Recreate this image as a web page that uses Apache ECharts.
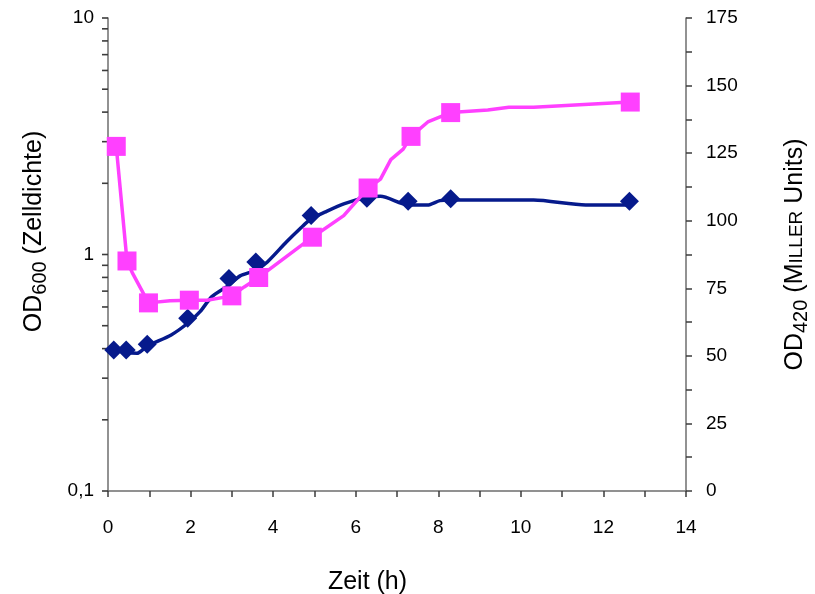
<!DOCTYPE html>
<html>
<head>
<meta charset="utf-8">
<script src="https://cdn.jsdelivr.net/npm/echarts@6/dist/echarts.min.js"></script>
<style>html,body{margin:0;padding:0;background:#fff}#c{width:815px;height:594px}</style>
</head>
<body>
<div id="c"></div>
<script>
// Marker data (measured points)
const odX   = [0.14, 0.44, 0.95, 1.93, 2.93, 3.58, 4.92, 6.27, 7.27, 8.30, 12.63];
const odY   = [0.395, 0.395, 0.417, 0.537, 0.791, 0.930, 1.462, 1.729, 1.680, 1.720, 1.680];
const muX   = [0.20, 0.46, 0.98, 1.97, 3.00, 3.65, 4.95, 6.30, 7.34, 8.30, 12.65];
const muY   = [127.5, 85.1, 69.6, 70.6, 72.2, 79.0, 93.9, 112.1, 131.2, 140.0, 143.9];

// Connecting (smoothed) curve vertices
const odLineX = [0.14, 0.44, 0.70, 0.95, 1.53, 1.93, 2.23, 2.51, 2.93, 3.20, 3.58, 3.86, 4.32, 4.65, 4.92, 5.25, 5.71, 6.27, 6.60, 7.27, 7.74, 8.04, 8.30, 9.24, 10.31, 11.57, 12.63];
const odLineY = [0.395, 0.385, 0.382, 0.41, 0.457, 0.512, 0.573, 0.662, 0.742, 0.812, 0.858, 0.93, 1.129, 1.285, 1.416, 1.51, 1.637, 1.746, 1.763, 1.62, 1.62, 1.69, 1.70, 1.70, 1.70, 1.62, 1.62];
const muLineX = [0.20, 0.46, 0.60, 0.98, 1.50, 1.97, 2.40, 3.00, 3.30, 3.65, 4.95, 5.71, 6.30, 6.60, 6.85, 7.15, 7.34, 7.76, 8.30, 9.20, 9.71, 10.31, 12.65];
const muLineY = [127.5, 85.1, 80.4, 69.6, 70.4, 70.6, 70.6, 72.2, 75.5, 79.0, 93.9, 101.9, 112.1, 115.4, 122.6, 126.5, 131.2, 136.7, 140.0, 141.0, 142.0, 142.0, 143.9];

// Axis settings / labels
const xMin = 0, xMax = 14, xStep = 2;
const leftMin = 0.1, leftMax = 10;
const leftTickValues = [0.1, 0.2, 0.3, 0.4, 0.5, 0.6, 0.7, 0.8, 0.9, 1, 2, 3, 4, 5, 6, 7, 8, 9, 10];
const rightMin = 0, rightMax = 175, rightStep = 25;
const xTitle = 'Zeit (h)';
const leftTitle = '{b|OD}{s|600}{b| (Zelldichte)}';
const rightTitle = '{b|OD}{s|420}{b| (M}{sc|ILLER}{b| Units)}';

const NAVY = '#061a8c';
const PINK = '#ff40ff';
const AXIS = '#6e6e6e';
const TICK = '#3c3c3c';
const FONT = '"Liberation Sans", Arial, sans-serif';
const TICK_LEN = 6;

const pairs = (xs, ys) => xs.map((x, i) => [x, ys[i]]);

const titleRich = {
  b: {fontSize: 25, fontFamily: FONT, color: '#000', lineHeight: 28},
  s: {fontSize: 20, fontFamily: FONT, color: '#000', lineHeight: 28, padding: [13, 0, 0, 0]},
  sc: {fontSize: 19, fontFamily: FONT, color: '#000', lineHeight: 28, padding: [4, 0, 0, 0]}
};

const chart = echarts.init(document.getElementById('c'), null, {renderer: 'canvas'});
chart.setOption({
  animation: false,
  backgroundColor: '#fff',
  grid: [
    {left: 108, right: 129, top: 18, bottom: 103, containLabel: false, outerBoundsMode: 'none'},
    // narrow strip left of the main plot that carries the log-axis tick marks
    {left: 108 - TICK_LEN, width: TICK_LEN, top: 18, bottom: 103, containLabel: false, outerBoundsMode: 'none'}
  ],
  xAxis: [
    {
      type: 'value', gridIndex: 0, min: xMin, max: xMax, interval: xStep,
      name: xTitle, nameLocation: 'middle', nameGap: 79,
      nameTextStyle: {fontSize: 25, fontFamily: FONT, color: '#000', padding: [0, 59, 0, 0]},
      axisLine: {show: true, lineStyle: {color: AXIS, width: 1.5}},
      axisTick: {show: true, inside: false, length: TICK_LEN, lineStyle: {color: TICK, width: 1.5}},
      minorTick: {show: true, splitNumber: 2, length: TICK_LEN, lineStyle: {color: TICK, width: 1.5}},
      axisLabel: {fontSize: 19, fontFamily: FONT, color: '#000', margin: 27},
      splitLine: {show: false}
    },
    {type: 'value', gridIndex: 1, min: 0, max: 1, show: false}
  ],
  yAxis: [
    {
      type: 'log', gridIndex: 0, logBase: 10, min: leftMin, max: leftMax, position: 'left',
      name: leftTitle, nameLocation: 'middle', nameRotate: 90, nameGap: 60,
      nameTextStyle: {rich: titleRich, padding: [0, 0, 0, 46]},
      axisLine: {show: true, lineStyle: {color: AXIS, width: 1.5}},
      axisTick: {show: false},
      minorTick: {show: false},
      axisLabel: {fontSize: 19, fontFamily: FONT, color: '#000', margin: 14,
        formatter: v => String(v).replace('.', ',')},
      splitLine: {show: false}
    },
    {
      type: 'value', gridIndex: 0, min: rightMin, max: rightMax, interval: rightStep, position: 'right',
      name: rightTitle, nameLocation: 'middle', nameRotate: 90, nameGap: 95,
      nameTextStyle: {rich: titleRich, padding: [0, 0, 0, 0]},
      axisLine: {show: true, lineStyle: {color: AXIS, width: 1.5}},
      axisTick: {show: true, inside: false, length: TICK_LEN, lineStyle: {color: TICK, width: 1.5}},
      minorTick: {show: true, splitNumber: 2, length: TICK_LEN, lineStyle: {color: TICK, width: 1.5}},
      axisLabel: {fontSize: 19, fontFamily: FONT, color: '#000', margin: 20},
      splitLine: {show: false}
    },
    {type: 'log', gridIndex: 1, logBase: 10, min: leftMin, max: leftMax, show: false}
  ],
  series: [
    {
      // log-axis ticks (decades and 2..9 per decade)
      type: 'scatter', xAxisIndex: 1, yAxisIndex: 2, clip: false, silent: true, z: 1,
      data: leftTickValues.map(v => [0.5, v]),
      symbol: 'rect', symbolSize: [TICK_LEN, 1.6],
      itemStyle: {color: TICK, opacity: 1},
      emphasis: {disabled: true}, tooltip: {show: false}
    },
    {
      type: 'line', xAxisIndex: 0, yAxisIndex: 0, data: pairs(odLineX, odLineY), smooth: 0.25,
      showSymbol: false, symbol: 'none', lineStyle: {color: NAVY, width: 3.5}, z: 2
    },
    {
      type: 'scatter', xAxisIndex: 0, yAxisIndex: 0, data: pairs(odX, odY), symbol: 'diamond', symbolSize: [19, 19],
      itemStyle: {color: NAVY, opacity: 1}, z: 3
    },
    {
      type: 'line', xAxisIndex: 0, yAxisIndex: 1, data: pairs(muLineX, muLineY), smooth: false,
      showSymbol: false, symbol: 'none', lineStyle: {color: PINK, width: 3.5}, z: 4
    },
    {
      type: 'scatter', xAxisIndex: 0, yAxisIndex: 1, data: pairs(muX, muY), symbol: 'rect', symbolSize: [19, 19],
      itemStyle: {color: PINK, opacity: 1}, z: 5
    }
  ]
});
</script>
</body>
</html>
